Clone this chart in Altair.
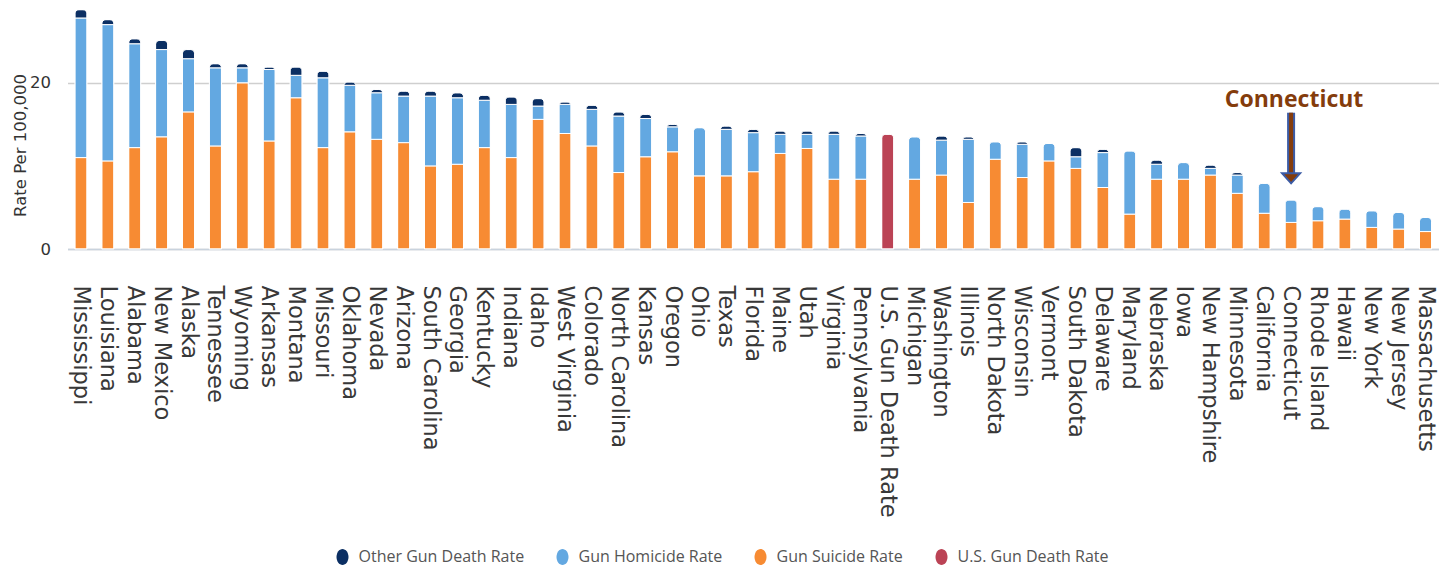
import altair as alt
import pandas as pd

states = ["Mississippi", "Louisiana", "Alabama", "New Mexico", "Alaska", "Tennessee", "Wyoming",
          "Arkansas", "Montana", "Missouri", "Oklahoma", "Nevada", "Arizona", "South Carolina",
          "Georgia", "Kentucky", "Indiana", "Idaho", "West Virginia", "Colorado", "North Carolina",
          "Kansas", "Oregon", "Ohio", "Texas", "Florida", "Maine", "Utah", "Virginia", "Pennsylvania",
          "U.S. Gun Death Rate", "Michigan", "Washington", "Illinois", "North Dakota", "Wisconsin",
          "Vermont", "South Dakota", "Delaware", "Maryland", "Nebraska", "Iowa", "New Hampshire",
          "Minnesota", "California", "Connecticut", "Rhode Island", "Hawaii", "New York",
          "New Jersey", "Massachusetts"]

suicide = [11.0, 10.6, 12.2, 13.5, 16.5, 12.4, 20.0, 13.0, 18.2, 12.2, 14.1, 13.2, 12.8, 10.0,
           10.2, 12.2, 11.0, 15.6, 13.9, 12.4, 9.2, 11.1, 11.7, 8.8, 8.8, 9.3, 11.5, 12.1, 8.4, 8.4,
           None, 8.4, 8.9, 5.6, 10.8, 8.6, 10.6, 9.7, 7.4, 4.2, 8.4, 8.4, 8.9, 6.7, 4.3, 3.2, 3.4,
           3.6, 2.6, 2.4, 2.1]
homicide = [16.8, 16.4, 12.5, 10.5, 6.4, 9.4, 1.8, 8.6, 2.7, 8.4, 5.6, 5.6, 5.6, 8.4,
            8.0, 5.7, 6.4, 1.6, 3.5, 4.4, 6.8, 4.6, 3.0, 5.8, 5.6, 4.7, 2.3, 1.7, 5.4, 5.2,
            None, 5.1, 4.2, 7.6, 2.1, 4.0, 2.1, 1.4, 4.2, 7.6, 1.8, 2.0, 0.8, 2.2, 3.6, 2.7, 1.7,
            1.2, 2.0, 2.0, 1.7]
other = [1.0, 0.6, 0.6, 1.1, 1.1, 0.5, 0.5, 0.3, 1.0, 0.8, 0.4, 0.4, 0.6, 0.6,
         0.6, 0.6, 0.9, 0.9, 0.3, 0.5, 0.5, 0.5, 0.3, 0.0, 0.4, 0.4, 0.4, 0.4, 0.4, 0.3,
         None, 0.0, 0.5, 0.3, 0.0, 0.3, 0.0, 1.1, 0.4, 0.0, 0.5, 0.0, 0.4, 0.3, 0.0, 0.0, 0.0,
         0.0, 0.0, 0.0, 0.0]
us_state = "U.S. Gun Death Rate"
us_rate = 13.8

series_names = ["Other Gun Death Rate", "Gun Homicide Rate", "Gun Suicide Rate", "U.S. Gun Death Rate"]
series_colors = ["#0b2f63", "#63a8e1", "#f78b33", "#bb4355"]

rows = []
for i, s in enumerate(states):
    if s == us_state:
        rows.append({"state": s, "series": "U.S. Gun Death Rate", "value": us_rate, "ord": 0})
        continue
    for name, arr, o in [("Gun Suicide Rate", suicide, 0), ("Gun Homicide Rate", homicide, 1),
                         ("Other Gun Death Rate", other, 2)]:
        if arr[i] and arr[i] > 0:
            rows.append({"state": s, "series": name, "value": arr[i], "ord": o})
df = pd.DataFrame(rows)

ann_state = ["Connecticut"]
ann_label = ["Connecticut"]
ann_text_y = [17.9]
ann_top = [16.4]
ann_bottom = [9.1]
ann_head = [8.5]
ann = pd.DataFrame({"state": ann_state, "label": ann_label, "ty": ann_text_y,
                    "y1": ann_top, "y2": ann_bottom, "head": ann_head})

YTITLE = "Rate Per 100,000"
xscale = alt.Scale(domain=states, paddingInner=0.55, paddingOuter=0.275)
yscale = alt.Scale(domain=[0, 29], nice=False)

xaxis = alt.Axis(labelAngle=90, labelAlign="left", labelBaseline="middle",
                 labelFont="DejaVu Sans", labelFontSize=22.5, labelColor="#383838",
                 labelPadding=36, ticks=False, tickSize=0, labelLimit=400,
                 labelOverlap=False, domainColor="#c9d3de", domainWidth=1.5, grid=False)
yaxis = alt.Axis(values=[0, 20], titleFont="DejaVu Sans", titleFontSize=16.5,
                 titleFontWeight="normal", titleColor="#333333",
                 titleX=-42, titleY=137, titleBaseline="alphabetic", titleAngle=270,
                 labelFont="DejaVu Sans", labelFontSize=16.5, labelColor="#333333",
                 labelPadding=17, ticks=False, tickSize=0, domain=False,
                 gridColor="#cfcfcf", gridWidth=1.5)

ellipse = "M0,-1A0.75,1 0 1,1 0,1A0.75,1 0 1,1 0,-1Z"

bars = alt.Chart(df).mark_bar(
    cornerRadiusTopLeft=4, cornerRadiusTopRight=4, stroke="white", strokeWidth=1
).encode(
    x=alt.X("state:N", scale=xscale, title=None, axis=xaxis),
    y=alt.Y("value:Q", stack="zero", scale=yscale, title=YTITLE, axis=yaxis),
    color=alt.Color("series:N", scale=alt.Scale(domain=series_names, range=series_colors),
                    legend=alt.Legend(orient="none", legendX=267, legendY=541,
                                      direction="horizontal", title=None,
                                      symbolType=ellipse, symbolSize=256, symbolStrokeWidth=0,
                                      labelFont="Open Sans", labelFontSize=16, labelLimit=400,
                                      labelColor="#555555", labelOffset=8, columnPadding=30)),
    order=alt.Order("ord:Q"),
)

rule_outer = alt.Chart(ann).mark_rule(color="#3b5ba5", strokeWidth=8).encode(
    x=alt.X("state:N", scale=xscale, title=None, axis=xaxis),
    y=alt.Y("y1:Q", scale=yscale, title=YTITLE, axis=yaxis), y2="y2:Q")
rule_inner = alt.Chart(ann).mark_rule(color="#843c0c", strokeWidth=4).encode(
    x=alt.X("state:N", scale=xscale, title=None, axis=xaxis),
    y=alt.Y("y1:Q", scale=yscale, title=YTITLE, axis=yaxis), y2="y2:Q")
head = alt.Chart(ann).mark_point(
    shape="M-0.9,-0.5L0.9,-0.5L0,0.5Z", size=400, filled=True, fill="#843c0c",
    stroke="#3b5ba5", strokeWidth=2, opacity=1
).encode(x=alt.X("state:N", scale=xscale, title=None, axis=xaxis),
         y=alt.Y("head:Q", scale=yscale, title=YTITLE, axis=yaxis))
label = alt.Chart(ann).mark_text(
    font="Open Sans", fontSize=23, fontWeight="bold", color="#843c0c", dx=3, baseline="middle"
).encode(x=alt.X("state:N", scale=xscale, title=None, axis=xaxis),
         y=alt.Y("ty:Q", scale=yscale, title=YTITLE, axis=yaxis), text="label:N")

chart = alt.layer(bars, rule_outer, rule_inner, head, label).properties(
    width=1371.5, height=241,
    padding={"left": 59.5, "top": 0, "right": 0, "bottom": 318},
    autosize=alt.AutoSizeParams(type="none"),
).configure_view(stroke=None).configure_axisY(
    titleFont="DejaVu Sans", titleFontSize=16.5, titleFontWeight="normal"
)

chart.save("out.html", embed_options={"renderer": "svg", "actions": False})
